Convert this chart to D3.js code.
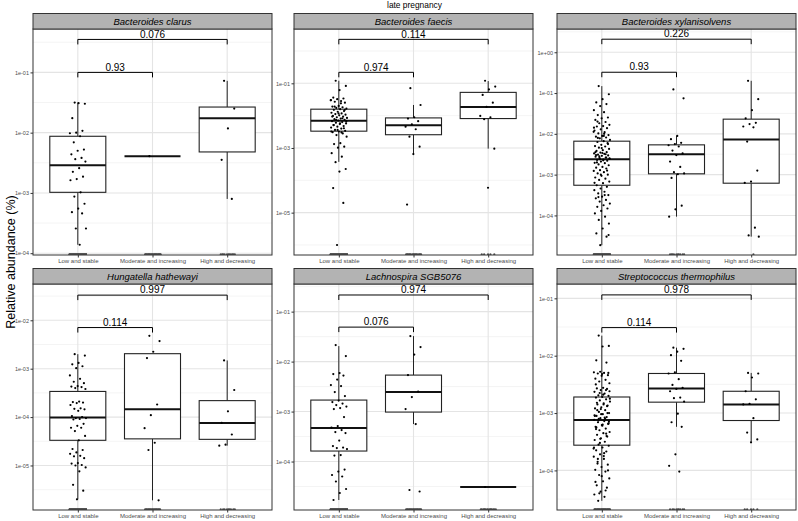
<!DOCTYPE html>
<html>
<head>
<meta charset="utf-8">
<script src="https://cdn.jsdelivr.net/npm/d3@7"></script>
<style>
  body { margin: 0; background: #fff; }
  text { font-family: "Liberation Sans", Arial, sans-serif; }
</style>
</head>
<body>
<div id="chart"></div>
<script>
// values are log10(relative abundance %)
var groups = ["Low and stable", "Moderate and increasing", "High and decreasing"];
var taxa = ["Bacteroides clarus", "Bacteroides faecis", "Bacteroides xylanisolvens",
            "Hungatella hathewayi", "Lachnospira SGB5076", "Streptococcus thermophilus"];

var clarusLow = [-1.50,-1.52,-1.51,-1.76,-1.97,-2.00,-2.01,-2.06,-2.16,-2.28,-2.30,-2.36,-2.42,-2.44,-2.48,-2.59,-2.65,-2.73,-2.77,-2.79,-2.99,-3.06,-3.18,-3.26,-3.32,-3.34,-3.59,-3.59,-3.86];
var clarusMod = [-2.39];
var clarusHigh = [-1.14,-1.60,-1.93,-2.45,-3.10];

var faecisLow = [-0.92,-1.08,-1.21,-1.44,-1.47,-1.49,-1.52,-1.55,-1.57,-1.60,-1.70,-1.72,-1.74,-1.76,-1.78,-1.80,-1.82,-1.86,-1.88,-1.91,-1.93,-1.95,-1.97,-1.99,-2.01,-2.03,-2.05,-2.07,-2.09,-2.11,-2.13,-2.15,-2.17,-2.20,-2.22,-2.24,-2.26,-2.29,-2.32,-2.34,-2.37,-2.40,-2.44,-2.47,-2.49,-2.51,-2.55,-2.60,-2.65,-2.85,-2.88,-2.96,-2.99,-3.16,-3.27,-3.44,-3.65,-3.73,-4.24,-4.70,-6.00,
  -1.52,-1.62,-1.72,-1.82,-1.93,-2.03,-2.08,-2.13,-2.18,-2.24,-2.29,-2.39,-2.44,-2.49,-2.52];
var faecisMod = [-1.15,-1.67,-2.05,-2.09,-2.17,-2.27,-2.34,-2.42,-2.65,-2.96,-3.19,-4.75];
var faecisHigh = [-0.92,-1.10,-1.19,-1.36,-1.60,-1.73,-2.01,-2.05,-2.11,-3.02,-4.23];

var xylanLow = [-0.83,-1.03,-1.15,-1.23,-1.27,-1.32,-1.42,-1.47,-1.54,-1.60,-1.62,-1.66,-1.71,-1.74,-1.78,-1.81,-1.82,-1.86,-1.89,-1.92,-1.96,-1.99,-2.03,-2.05,-2.07,-2.09,-2.11,-2.15,-2.18,-2.20,-2.23,-2.27,-2.30,-2.31,-2.34,-2.37,-2.40,-2.42,-2.45,-2.46,-2.48,-2.49,-2.51,-2.53,-2.54,-2.56,-2.58,-2.59,-2.61,-2.63,-2.64,-2.66,-2.68,-2.71,-2.72,-2.75,-2.77,-2.81,-2.83,-2.85,-2.89,-2.91,-2.94,-2.97,-3.00,-3.03,-3.07,-3.10,-3.13,-3.17,-3.21,-3.26,-3.30,-3.34,-3.38,-3.42,-3.46,-3.50,-3.54,-3.58,-3.62,-3.66,-3.71,-3.75,-3.79,-3.83,-3.89,-3.95,-4.03,-4.11,-4.20,-4.32,-4.44,-4.52,-4.73,
  -1.85,-2.00,-2.10,-2.25,-2.35,-2.45,-2.50,-2.55,-2.60,-2.65,-2.70,-2.90,-3.00,-3.20,-3.50,-3.55,-4.48,-2.47,-2.52,-2.58,-2.62,-1.95,-2.05,-1.70];
var xylanMod = [-0.91,-1.13,-2.05,-2.13,-2.22,-2.25,-2.28,-2.31,-2.41,-2.48,-2.52,-2.68,-2.81,-2.94,-2.97,-2.99,-3.08,-3.76,-3.85,-4.03];
var xylanHigh = [-0.70,-1.15,-1.42,-1.62,-1.73,-1.76,-1.82,-1.84,-2.19,-2.90,-3.17,-3.20,-4.30,-4.49,-4.52];

var hungLow = [-2.70,-2.73,-2.88,-2.91,-2.95,-2.99,-3.14,-3.21,-3.27,-3.30,-3.36,-3.37,-3.38,-3.40,-3.42,-3.68,-3.69,-3.70,-3.71,-3.75,-3.82,-3.83,-3.84,-3.87,-3.98,-4.00,-4.02,-4.02,-4.04,-4.05,-4.14,-4.18,-4.22,-4.22,-4.29,-4.39,-4.48,-4.66,-4.68,-4.73,-4.76,-4.80,-4.81,-4.85,-4.95,-4.96,-4.99,-5.00,-5.04,-5.12,-5.40,-5.52,-5.70];
var hungMod = [-2.32,-2.43,-2.65,-2.78,-3.74,-3.96,-4.23,-4.53,-4.68,-5.72];
var hungHigh = [-2.83,-3.44,-3.88,-4.12,-4.36,-4.57,-4.59];

var lachnoLow = [-1.67,-1.89,-2.23,-2.25,-2.28,-2.36,-2.47,-2.49,-2.61,-2.69,-2.78,-2.81,-2.84,-2.87,-2.90,-2.93,-2.95,-3.11,-3.29,-3.32,-3.37,-3.41,-3.43,-3.58,-3.69,-3.72,-3.73,-3.75,-3.87,-3.88,-4.16,-4.20,-4.27,-4.30,-4.40,-4.55,-4.63,-4.77];
var lachnoMod = [-1.49,-1.71,-1.86,-2.27,-2.60,-2.71,-2.95,-3.25,-4.57,-4.60];
var lachnoHigh = [-4.51];

var streptoLow = [-1.65,-1.83,-1.84,-2.08,-2.12,-2.28,-2.29,-2.30,-2.31,-2.34,-2.35,-2.40,-2.42,-2.45,-2.48,-2.56,-2.57,-2.58,-2.60,-2.63,-2.66,-2.69,-2.70,-2.72,-2.73,-2.76,-2.78,-2.80,-2.83,-2.85,-2.87,-2.90,-2.92,-2.95,-2.98,-3.00,-3.02,-3.05,-3.07,-3.09,-3.12,-3.14,-3.16,-3.19,-3.21,-3.24,-3.27,-3.30,-3.33,-3.35,-3.38,-3.41,-3.44,-3.47,-3.50,-3.55,-3.57,-3.60,-3.65,-3.67,-3.72,-3.76,-3.80,-3.85,-3.90,-3.94,-3.99,-4.02,-4.08,-4.14,-4.19,-4.26,-4.30,-4.37,-4.42,-4.46,-4.53,
  -2.30,-2.32,-2.50,-2.60,-2.65,-2.75,-2.85,-2.95,-3.00,-3.02,-3.05,-3.10,-3.10,-3.15,-3.20,-3.25,-3.40,-3.45,-3.60,-3.70,-3.80,-4.00,-4.10,-4.20,-4.35,-4.40,
  -2.62,-2.68,-2.82,-2.88,-2.93,-3.04,-3.08,-3.13,-3.18,-3.22,-3.28,-3.36,-3.52,-3.62,-3.75,-3.88];
var streptoMod = [-1.86,-1.88,-1.93,-1.99,-2.09,-2.29,-2.31,-2.41,-2.51,-2.56,-2.58,-2.62,-2.73,-2.74,-2.80,-3.01,-3.16,-3.24,-3.72,-3.92,-4.02];
var streptoHigh = [-2.30,-2.31,-2.38,-2.62,-2.76,-2.84,-2.85,-3.09,-3.34,-3.46,-3.51];

// boxes: [lower whisker, q1, median, q3, upper whisker] per group
var clarusBox = [[-3.86,-2.99,-2.54,-2.06,-1.50],[-2.39,-2.39,-2.39,-2.39,-2.39],[-3.10,-2.32,-1.76,-1.575,-1.14]];
var faecisBox = [[-3.43,-2.48,-2.16,-1.80,-0.92],[-3.19,-2.59,-2.30,-2.07,-1.67],[-3.02,-2.09,-1.73,-1.28,-0.93]];
var xylanBox = [[-4.73,-3.26,-2.62,-2.18,-0.83],[-4.03,-2.98,-2.50,-2.27,-2.05],[-4.52,-3.21,-2.14,-1.64,-0.70]];
var hungBox = [[-5.70,-4.48,-4.01,-3.47,-2.70],[-5.72,-4.45,-3.84,-2.69,-2.69],[-4.59,-4.46,-4.12,-3.66,-2.83]];
var lachnoBox = [[-4.77,-3.79,-3.33,-2.77,-1.69],[-3.25,-3.01,-2.61,-2.27,-1.49],[-4.51,-4.51,-4.51,-4.51,-4.51]];
var streptoBox = [[-4.53,-3.56,-3.12,-2.72,-1.65],[-3.24,-2.81,-2.57,-2.31,-1.86],[-3.50,-3.13,-2.85,-2.62,-2.30]];

// samples with zero abundance (drawn at the bottom edge)
var zeroCounts = [[200,29,11],[150,18,5],[80,10,1],[180,20,9],[190,20,15],[30,9,5]];

// p-values and bracket heights (log10)
var pLowHigh = ["0.076","0.114","0.226","0.997","0.974","0.978"];
var pLowMod = ["0.93","0.974","0.93","0.114","0.076","0.114"];
var bracketHigh = [-0.453, 0.36, 0.32, -1.48, -0.667, -0.94];
var bracketMod = [-1.0, -0.66, -0.49, -2.15, -1.31, -1.51];

var yDomains = [[-4.03,-0.28],[-6.31,0.68],[-4.97,0.57],[-5.92,-1.25],[-4.97,-0.447],[-4.69,-0.75]];
var yTickExps = [[-4,-3,-2,-1],[-5,-3,-1],[-4,-3,-2,-1,0],[-5,-4,-3,-2],[-4,-3,-2,-1],[-4,-3,-2,-1]];

var points = [
  [clarusLow, clarusMod, clarusHigh],
  [faecisLow, faecisMod, faecisHigh],
  [xylanLow, xylanMod, xylanHigh],
  [hungLow, hungMod, hungHigh],
  [lachnoLow, lachnoMod, lachnoHigh],
  [streptoLow, streptoMod, streptoHigh]
];
var boxes = [clarusBox, faecisBox, xylanBox, hungBox, lachnoBox, streptoBox];

var W = 239, H = 226, stripH = 15.5;
var colX = [33, 294, 557], rowY = [29, 284];

var svg = d3.select("#chart").append("svg")
    .attr("width", 798)
    .attr("height", 521)
    .style("display", "block")
    .style("background", "#fff");

function fmt(d) {
  var e = Math.round(Math.log10(d));
  return "1e" + (e < 0 ? "-" : "+") + String(Math.abs(e)).padStart(2, "0");
}
function jit(i) { return ((i * 0.6180339887 + 0.31) % 1) * 2 - 1; }

taxa.forEach(function(name, k) {
  var g = svg.append("g")
      .attr("transform", "translate(" + colX[k % 3] + "," + rowY[Math.floor(k / 3)] + ")");

  var x = d3.scalePoint().domain(groups).range([0, W]).padding(0.6);
  var step = x.step();
  var lo = yDomains[k][0], hi = yDomains[k][1];
  var y = d3.scaleLog().domain([Math.pow(10, lo), Math.pow(10, hi)]).range([H, 0]);
  var Y = function(v) { return y(Math.pow(10, v)); };

  var majors = yTickExps[k];
  var mstep = majors[1] - majors[0];
  var minors = [];
  for (var m = majors[0] - mstep / 2; m <= hi; m += mstep) if (m >= lo) minors.push(m);

  g.append("rect").attr("width", W).attr("height", H).attr("fill", "#fff");

  g.selectAll(".minor").data(minors).enter().append("line")
      .attr("x1", 0).attr("x2", W)
      .attr("y1", Y).attr("y2", Y)
      .attr("stroke", "#ededed").attr("stroke-width", 0.6);
  g.selectAll(".major").data(majors).enter().append("line")
      .attr("x1", 0).attr("x2", W)
      .attr("y1", Y).attr("y2", Y)
      .attr("stroke", "#e4e4e4").attr("stroke-width", 1.1);
  g.selectAll(".vgrid").data(groups).enter().append("line")
      .attr("x1", x).attr("x2", x)
      .attr("y1", 0).attr("y2", H)
      .attr("stroke", "#e4e4e4").attr("stroke-width", 1.1);

  var clipId = "clip" + k;
  g.append("clipPath").attr("id", clipId)
    .append("rect").attr("width", W).attr("height", H);
  var inner = g.append("g").attr("clip-path", "url(#" + clipId + ")");

  // boxplots
  var bw = step * 0.75;
  boxes[k].forEach(function(b, gi) {
    var cx = x(groups[gi]);
    var bg = inner.append("g");
    bg.append("line").attr("x1", cx).attr("x2", cx)
        .attr("y1", Y(b[0])).attr("y2", Y(b[1]))
        .attr("stroke", "#222").attr("stroke-width", 1);
    bg.append("line").attr("x1", cx).attr("x2", cx)
        .attr("y1", Y(b[3])).attr("y2", Y(b[4]))
        .attr("stroke", "#222").attr("stroke-width", 1);
    bg.append("rect")
        .attr("x", cx - bw / 2).attr("width", bw)
        .attr("y", Y(b[3])).attr("height", Math.max(0, Y(b[1]) - Y(b[3])))
        .attr("fill", "#fff").attr("stroke", "#222").attr("stroke-width", 1.1);
    bg.append("line")
        .attr("x1", cx - bw / 2).attr("x2", cx + bw / 2)
        .attr("y1", Y(b[2])).attr("y2", Y(b[2]))
        .attr("stroke", "#111").attr("stroke-width", 2);
  });

  // zero samples at the bottom edge
  zeroCounts[k].forEach(function(n, gi) {
    var cx = x(groups[gi]);
    inner.append("g").selectAll("circle").data(d3.range(n)).enter().append("circle")
        .attr("cx", function(i) { return cx + jit(i + 7) * step * 0.11; })
        .attr("cy", H - 0.6)
        .attr("r", 1.1)
        .attr("fill", "#555");
  });

  // jittered points
  points[k].forEach(function(vals, gi) {
    var cx = x(groups[gi]);
    inner.append("g").selectAll("circle").data(vals).enter().append("circle")
        .attr("cx", function(d, i) { return cx + jit(i) * step * 0.11; })
        .attr("cy", function(d) { return Y(d); })
        .attr("r", 1.1)
        .attr("fill", "#000");
  });

  // comparison brackets
  function bracket(level, g2, label) {
    var x1 = x(groups[0]), x2 = x(g2), yy = Y(level);
    g.append("path")
        .attr("d", "M" + x1 + "," + (yy + 5) + "V" + yy + "H" + x2 + "V" + (yy + 5))
        .attr("fill", "none").attr("stroke", "#000").attr("stroke-width", 1);
    g.append("text")
        .attr("x", (x1 + x2) / 2).attr("y", yy - 1.8)
        .attr("text-anchor", "middle")
        .style("font-size", "10px")
        .text(label);
  }
  bracket(bracketHigh[k], groups[2], pLowHigh[k]);
  bracket(bracketMod[k], groups[1], pLowMod[k]);

  g.append("rect").attr("width", W).attr("height", H)
      .attr("fill", "none").attr("stroke", "#333").attr("stroke-width", 1);

  // strip
  g.append("rect")
      .attr("y", -stripH).attr("width", W).attr("height", stripH)
      .attr("fill", "#b3b3b3").attr("stroke", "#333").attr("stroke-width", 1);
  g.append("text")
      .attr("x", W / 2).attr("y", -stripH / 2 + 3.4)
      .attr("text-anchor", "middle")
      .style("font-size", "9.5px")
      .style("font-style", "italic")
      .text(name);

  // axes
  var ya = g.append("g")
      .call(d3.axisLeft(y).tickValues(majors.map(function(e) { return Math.pow(10, e); }))
        .tickFormat(fmt).tickSize(2.5).tickPadding(1.5));
  ya.select(".domain").remove();
  ya.selectAll("line").attr("stroke", "#333");
  ya.selectAll("text").attr("fill", "#4d4d4d").style("font-size", "5.5px");

  var xa = g.append("g")
      .attr("transform", "translate(0," + H + ")")
      .call(d3.axisBottom(x).tickSize(2.5).tickPadding(1.5));
  xa.select(".domain").remove();
  xa.selectAll("line").attr("stroke", "#333");
  xa.selectAll("text").attr("fill", "#4d4d4d").style("font-size", "6px");
});

svg.append("text")
    .attr("x", 414.5).attr("y", 8)
    .attr("text-anchor", "middle")
    .style("font-size", "8.4px")
    .text("late pregnancy");

svg.append("text")
    .attr("transform", "translate(14.5,262) rotate(-90)")
    .attr("text-anchor", "middle")
    .style("font-size", "12.5px")
    .text("Relative abundance (%)");
</script>
</body>
</html>
